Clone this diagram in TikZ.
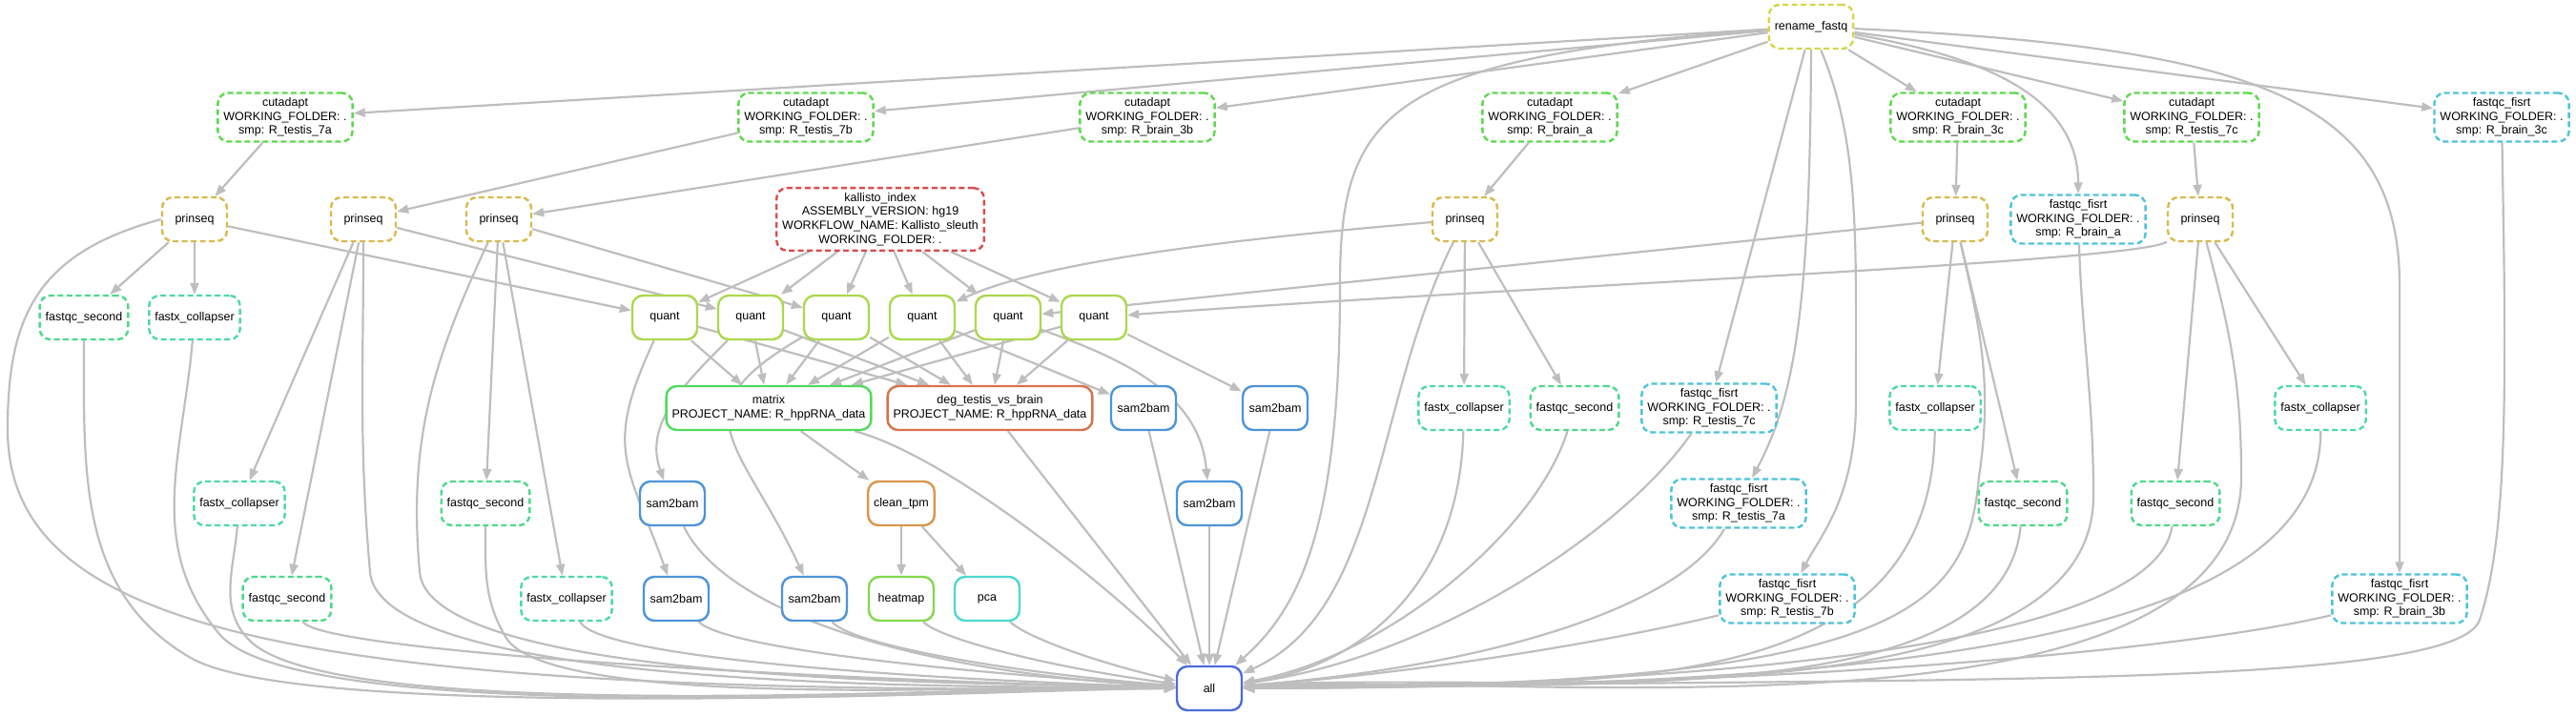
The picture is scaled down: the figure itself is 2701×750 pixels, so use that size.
\documentclass[tikz,border=0pt]{standalone}
\usepackage{fontspec}
\setmainfont{Liberation Sans}
\usetikzlibrary{arrows.meta,backgrounds}

% Cores
\definecolor{cinzaseta}{RGB}{190,190,190}
\definecolor{correname}{RGB}{210,214,74}
\definecolor{corcut}{RGB}{92,217,77}
\definecolor{corprinseq}{RGB}{217,185,77}
\definecolor{corfqs}{RGB}{77,217,138}
\definecolor{corfxc}{RGB}{77,217,166}
\definecolor{corfqf}{RGB}{77,195,217}
\definecolor{corkal}{RGB}{217,77,77}
\definecolor{corquant}{RGB}{170,217,77}
\definecolor{cormatrix}{RGB}{82,217,95}
\definecolor{cordeg}{RGB}{217,113,77}
\definecolor{corsam}{RGB}{77,148,217}
\definecolor{cortpm}{RGB}{217,150,77}
\definecolor{corheat}{RGB}{131,217,77}
\definecolor{corpca}{RGB}{77,217,207}
\definecolor{corall}{RGB}{77,108,217}

\tikzset{
  regra/.style={draw=#1, line width=1.2pt, rounded corners=5.5pt, fill=white,
    minimum width=34pt, minimum height=23pt, inner xsep=3pt, inner ysep=2.5pt,
    align=center, font=\fontsize{6.25}{7.35}\selectfont},
  tracejada/.style={regra=#1, dash pattern=on 3pt off 1.75pt},
  seta/.style={draw=cinzaseta, line width=1.1pt, -{Triangle[length=6pt,width=4.5pt]}}
}

\begin{document}
\begin{tikzpicture}[x=0.5pt,y=0.5pt]
\useasboundingbox (0,0) rectangle (2701,-750);

% Topo
\node[tracejada=correname] (rn) at (1899,-28) {rename\_fastq};

% cutadapt
\foreach \nome/\x/\amostra in {ca7a/299/testis\_7a, ca7b/845/testis\_7b, ca3b/1203/brain\_3b,
    caba/1625/brain\_a, ca3c/2053/brain\_3c, ca7c/2298/testis\_7c}{
  \node[tracejada=corcut] (\nome) at (\x,-123) {cutadapt\\WORKING\_FOLDER: .\\smp: R\_\amostra};
}

% fastqc_fisrt
\foreach \nome/\x/\y/\amostra in {ff3c/2623/-123/brain\_3c, ffba/2179/-230/brain\_a,
    ff7c/1792/-428/testis\_7c, ff7a/1823/-528/testis\_7a, ff7b/1874/-628/testis\_7b,
    ff3b/2516/-628/brain\_3b}{
  \node[tracejada=corfqf] (\nome) at (\x,\y) {fastqc\_fisrt\\WORKING\_FOLDER: .\\smp: R\_\amostra};
}

% prinseq
\foreach \nome/\x in {ps7a/204, ps7b/381, ps3b/523, psba/1536, ps3c/2050, ps7c/2307}{
  \node[tracejada=corprinseq] (\nome) at (\x,-230) {prinseq};
}

\node[tracejada=corkal] (kal) at (923,-230)
  {kallisto\_index\\ASSEMBLY\_VERSION: hg19\\WORKFLOW\_NAME: Kallisto\_sleuth\\WORKING\_FOLDER: .};

% fastqc_second e fastx_collapser
\foreach \nome/\x/\y in {fs7a/88/-333, fs7b/301/-628, fs3b/509/-528, fsba/1651/-428,
    fs3c/2121/-528, fs7c/2281/-528}{
  \node[tracejada=corfqs] (\nome) at (\x,\y) {fastqc\_second};
}
\foreach \nome/\x/\y in {fc7a/204/-333, fc7b/251/-528, fc3b/594/-628, fcba/1535/-428,
    fc3c/2029/-428, fc7c/2433/-428}{
  \node[tracejada=corfxc] (\nome) at (\x,\y) {fastx\_collapser};
}

% quant e sam2bam
\foreach \n/\x in {1/697, 2/787, 3/877, 4/967, 5/1057, 6/1147}{
  \node[regra=corquant] (q\n) at (\x,-333) {quant};
}
\foreach \nome/\x/\y in {sb1/709/-628, sb2/705/-528, sb3/854/-628, sb4/1199/-428,
    sb5/1268/-528, sb6/1337/-428}{
  \node[regra=corsam] (\nome) at (\x,\y) {sam2bam};
}

% Analise
\node[regra=cormatrix] (mat) at (806,-428) {matrix\\PROJECT\_NAME: R\_hppRNA\_data};
\node[regra=cordeg] (deg) at (1038,-428) {deg\_testis\_vs\_brain\\PROJECT\_NAME: R\_hppRNA\_data};
\node[regra=cortpm] (ctpm) at (945,-528) {clean\_tpm};
\node[regra=corheat] (hm) at (945,-628) {heatmap};
\node[regra=corpca] (pca) at (1035,-628) {pca};
\node[regra=corall] (all) at (1268,-722) {all};

\begin{scope}[on background layer]
% Arestas retas
\foreach \orig/\dest in {rn/ca7a, rn/ca7b, rn/ca3b, rn/caba, rn/ca3c, rn/ca7c, rn/ff3c, rn/ff7c,
    ca7a/ps7a, ca7b/ps7b, ca3b/ps3b, caba/psba, ca3c/ps3c, ca7c/ps7c,
    ps7a/fs7a, ps7a/fc7a, ps7a/q1, ps7b/q2, ps7b/fc7b, ps7b/fs7b, ps3b/q3, ps3b/fs3b, ps3b/fc3b,
    psba/fcba, psba/fsba, ps3c/fc3c, ps3c/fs3c, ps7c/fs7c, ps7c/fc7c, ps3c/q5,
    q4/sb4, q6/sb6, mat/ctpm, ctpm/hm, ctpm/pca,
    deg/all, sb4/all, sb5/all, sb6/all}{
  \draw[seta] (\orig) -- (\dest);
}
\foreach \n in {1,...,6}{
  \draw[seta] (kal) -- (q\n);
  \draw[seta] (q\n) -- (mat);
  \draw[seta] (q\n) -- (deg);
}

% Arestas curvas
\draw[seta] (rn) to[out=-10,in=90] (ffba);
\draw[seta] (rn) .. controls (2380,-50) and (2516,-110) .. (2516,-300) -- (ff3b);
\draw[seta] (rn) .. controls (1898,-330) and (1880,-420) .. (ff7a);
\draw[seta] (rn) .. controls (1950,-150) and (1946,-250) .. (1946,-420)
  .. controls (1946,-520) and (1910,-560) .. (ff7b);
\draw[seta] (psba) to[out=185,in=25,looseness=0.6] (q4);
\draw[seta] (ps7c) .. controls (2240,-275) and (1600,-300) .. (q6);
\draw[seta] (q1) to[out=-115,in=110,looseness=1.3] (sb1);
\draw[seta] (q2) to[out=-135,in=110] (sb2);
\draw[seta] (q3) to[out=-150,in=115,looseness=1.6] (sb3);
\draw[seta] (q5) to[out=-20,in=95] (sb5);

% Entradas de all, lado esquerdo
\draw[seta] (ps7a.west) .. controls (40,-265) and (8,-330) .. (8,-450)
  .. controls (8,-660) and (300,-730) .. (all.west);
\draw[seta] (fs7a) to[out=-90,in=150] (200,-690) to[out=-30,in=180,looseness=0.35] (all);
\draw[seta] (fc7a) to[out=-95,in=130] (230,-665) to[out=-50,in=179,looseness=0.35] (all);
\draw[seta] (fc7b) to[out=-95,in=135] (262,-672) to[out=-45,in=178,looseness=0.35] (all);
\draw[seta] (ps7b) to[out=-90,in=95] (388,-600) to[out=-85,in=179,looseness=0.4] (all);
\draw[seta] (ps3b) to[out=-115,in=95] (440,-600) to[out=-85,in=178,looseness=0.4] (all);
\draw[seta] (fs3b) to[out=-90,in=120] (530,-668) to[out=-60,in=177,looseness=0.35] (all);

% Entradas de all, lado direito
\draw[seta] (rn) .. controls (1450,-60) and (1405,-120) .. (1405,-300)
  .. controls (1405,-560) and (1360,-640) .. (all);
\draw[seta] (ps3c) .. controls (2075,-340) and (2090,-400) .. (2075,-500)
  .. controls (2062,-640) and (2000,-720) .. (all);
\draw[seta] (ffba) to[out=-88,in=90] (2195,-520) to[out=-90,in=4,looseness=0.7] (all);
\draw[seta] (ps7c) to[out=-75,in=90] (2350,-500) to[out=-90,in=3,looseness=0.7] (all);
\draw[seta] (ff3c) .. controls (2628,-400) and (2630,-560) .. (2600,-650)
  .. controls (2575,-725) and (2000,-710) .. (all);

% Demais entradas de all
\foreach \orig/\ax/\ay/\bx/\by in {fs7b/340/-685/900/-715, fc3b/630/-690/950/-712,
    sb2/760/-640/950/-705, sb1/760/-680/1000/-705, sb3/890/-675/1050/-705,
    hm/985/-670/1100/-700, pca/1075/-668/1150/-695, mat/1000/-480/1180/-630,
    psba/1440/-420/1450/-640, fcba/1530/-620/1420/-700, fsba/1610/-560/1450/-690,
    ff7c/1700/-560/1500/-690, ff7a/1760/-640/1550/-700, ff7b/1700/-670/1500/-705,
    fc3c/2025/-750/1650/-712, fs3c/2100/-740/1700/-715, fs7c/2260/-670/1850/-718,
    fc7c/2435/-690/1900/-720, ff3b/2300/-680/1900/-720}{
  \draw[seta] (\orig) .. controls (\ax,\ay) and (\bx,\by) .. (all);
}
\end{scope}

\end{tikzpicture}
\end{document}
